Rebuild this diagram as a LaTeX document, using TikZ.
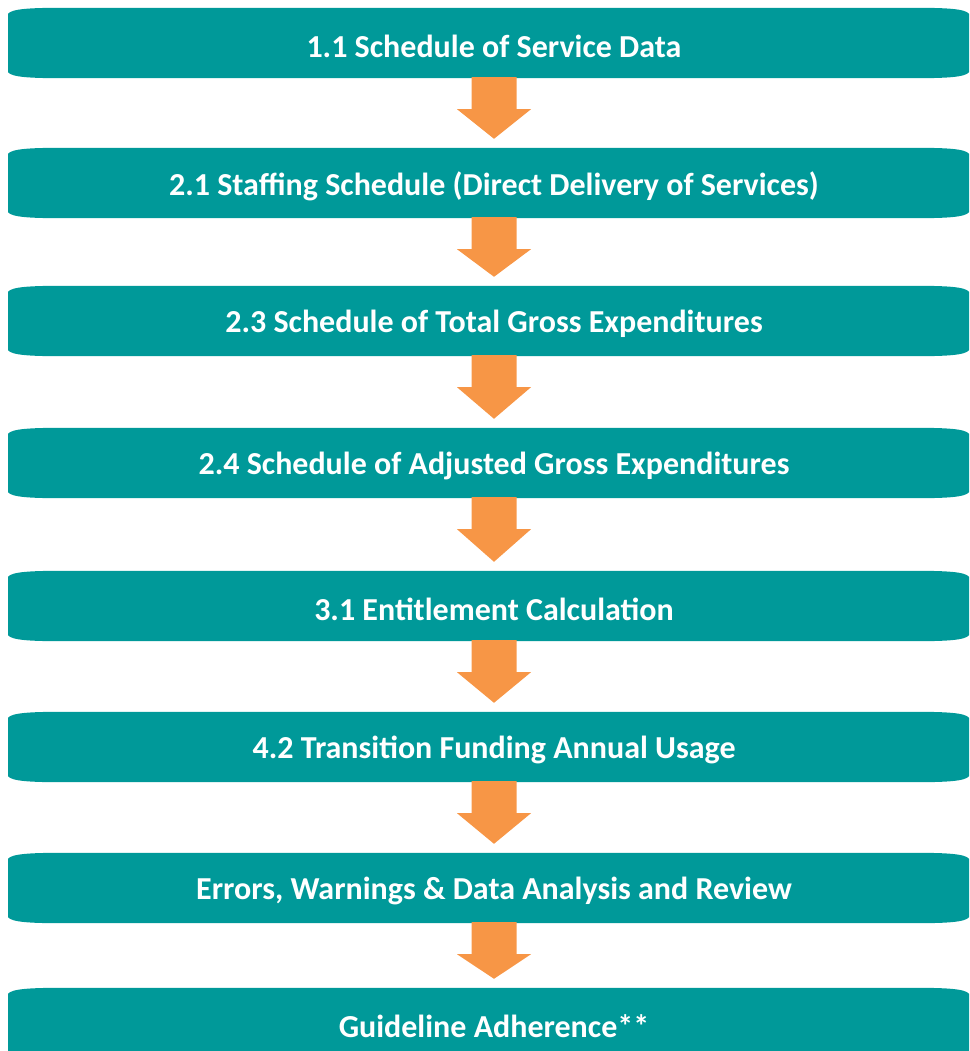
\documentclass[tikz,border=0pt]{standalone}
\usepackage{fontspec}
\setmainfont{Carlito}
\usetikzlibrary{calc,backgrounds}
\definecolor{bandteal}{RGB}{0,153,153}
\definecolor{arroworange}{RGB}{247,150,70}
\newcommand\lowtext[1]{\raisebox{-3pt}[\height][\depth]{#1}}
\tikzset{
  band/.style={minimum width=930pt, minimum height=70pt, inner sep=0pt,
    text=white, font=\fontsize{32}{36}\selectfont\bfseries},
  bandfill/.style={fill=bandteal, draw=none},
  arrowfill/.style={fill=arroworange, draw=none}
}
\newcommand\bandshape[1]{%
  \fill[bandfill] ($(#1.north -| L)+(0,6)$)
    .. controls ($(#1.north -| L)+(4,1)$) and ($(#1.north -| L)+(22,0)$) .. ($(#1.north -| L)+(55,0)$)
    -- ($(#1.north -| R)+(-55,0)$)
    .. controls ($(#1.north -| R)+(-22,0)$) and ($(#1.north -| R)+(-4,1)$) .. ($(#1.north -| R)+(0,6)$)
    -- ($(#1.south -| R)+(0,-6)$)
    .. controls ($(#1.south -| R)+(-4,-1)$) and ($(#1.south -| R)+(-22,0)$) .. ($(#1.south -| R)+(-55,0)$)
    -- ($(#1.south -| L)+(55,0)$)
    .. controls ($(#1.south -| L)+(22,0)$) and ($(#1.south -| L)+(4,-1)$) .. ($(#1.south -| L)+(0,-6)$)
    -- cycle;}
\newcommand\flowarrow[2]{%
  \fill[arrowfill] ($(#1.south)+(-22.5,-1)$) -- ($(#1.south)+(22.5,-1)$)
    -- ($(#1.south)+(22.5,31)$) -- ($(#1.south)+(37,31)$)
    -- ($(#2.north)+(0,-9)$)
    -- ($(#1.south)+(-37,31)$) -- ($(#1.south)+(-22.5,31)$) -- cycle;}
\begin{document}
\begin{tikzpicture}[x=1pt,y=-1pt]
\useasboundingbox (0,0) rectangle (969,1051);
\clip (0,0) rectangle (969,1051);
\coordinate (L) at (8,0);
\coordinate (R) at (969,0);
\node[band] (b1) at (494,43) {\lowtext{1.1 Schedule of Service Data}};
\node[band] (b2) at (494,183) {\lowtext{2.1 Staffing Schedule (Direct Delivery of Services)}};
\node[band] (b3) at (494,321) {\lowtext{2.3 Schedule of Total Gross Expenditures}};
\node[band] (b4) at (494,463) {\lowtext{2.4 Schedule of Adjusted Gross Expenditures}};
\node[band] (b5) at (494,606) {\lowtext{3.1 Entitlement Calculation}};
\node[band] (b6) at (494,747) {\lowtext{4.2 Transition Funding Annual Usage}};
\node[band] (b7) at (494,888) {\lowtext{Errors, Warnings \& Data Analysis and Review}};
\node[band] (b8) at (494,1023) {\lowtext{Guideline Adherence**}};
\begin{scope}[on background layer]
\foreach \b in {b1,b2,b3,b4,b5,b6,b7,b8}{\bandshape{\b}}
\end{scope}
\flowarrow{b1}{b2}
\flowarrow{b2}{b3}
\flowarrow{b3}{b4}
\flowarrow{b4}{b5}
\flowarrow{b5}{b6}
\flowarrow{b6}{b7}
\flowarrow{b7}{b8}
\end{tikzpicture}
\end{document}
